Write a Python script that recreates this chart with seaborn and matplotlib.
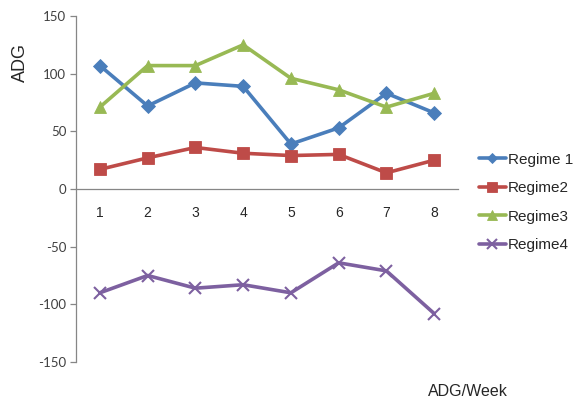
import matplotlib
matplotlib.use("Agg")
import matplotlib.pyplot as plt
import seaborn as sns
import pandas as pd

weeks = [1, 2, 3, 4, 5, 6, 7, 8]
regime1 = [107, 72, 92, 89, 39, 53, 83, 66]
regime2 = [17, 27, 36, 31, 29, 30, 14, 25]
regime3 = [71, 107, 107, 125, 96, 86, 71, 83]
regime4 = [-90, -75, -86, -83, -90, -64, -71, -108]
series_names = ["Regime 1", "Regime2", "Regime3", "Regime4"]
y_ticks = [-150, -100, -50, 0, 50, 100, 150]

colors = {"Regime 1": "#4A7EBB", "Regime2": "#BE4B48",
          "Regime3": "#98B954", "Regime4": "#7D60A0"}
markers = {"Regime 1": "D", "Regime2": "s", "Regime3": "^", "Regime4": "x"}
msizes = {"Regime 1": 7, "Regime2": 8.5, "Regime3": 9, "Regime4": 9}

frames = []
for name, vals in zip(series_names, [regime1, regime2, regime3, regime4]):
    frames.append(pd.DataFrame({"week": weeks, "ADG": vals, "regime": name}))
df = pd.concat(frames, ignore_index=True)

sns.set_style("white")
plt.rcParams["font.family"] = ["Liberation Sans", "DejaVu Sans"]

fig = plt.figure(figsize=(5.78, 4.0), dpi=100)
ax = fig.add_axes([0.1315, 0.095, 0.661, 0.865])

for name in series_names:
    sub = df[df["regime"] == name]
    sns.lineplot(data=sub, x="week", y="ADG", ax=ax, color=colors[name],
                 marker=markers[name], markersize=msizes[name],
                 markeredgewidth=1.5 if markers[name] == "x" else 0.6,
                 markeredgecolor=colors[name],
                 linewidth=2.6, label=name, legend=False)

ax.set_xlim(0.5, 8.5)
ax.set_ylim(-150, 150)
ax.set_yticks(y_ticks)
ax.set_yticklabels([str(v) for v in y_ticks], fontsize=9.5, color="#404040",
                   family=["Lato", "DejaVu Sans"])
ax.set_xticks(weeks)
ax.set_xticklabels([str(w) for w in weeks], fontsize=9.5, color="#202020",
                   family=["Lato", "DejaVu Sans"])
ax.set_xlabel("")
ax.set_ylabel("")

for side in ["top", "right"]:
    ax.spines[side].set_visible(False)
ax.spines["bottom"].set_position(("data", 0))
ax.spines["bottom"].set_color("#868686")
ax.spines["left"].set_color("#868686")
ax.spines["bottom"].set_linewidth(0.9)
ax.spines["left"].set_linewidth(0.9)
ax.tick_params(axis="x", length=0, pad=12)
ax.tick_params(axis="y", length=4, width=0.9, color="#868686", pad=3, left=True)

# legend keys use slightly smaller markers than the plotted lines
handles, labels = ax.get_legend_handles_labels()
orig_sizes = [h.get_markersize() for h in handles]
for h, s in zip(handles, orig_sizes):
    h.set_markersize(s * 0.8)
leg = fig.legend(handles, labels, loc="center left", bbox_to_anchor=(0.828, 0.494),
                 frameon=False, fontsize=11, handlelength=1.8, handletextpad=0.12,
                 labelspacing=0.95, borderpad=0, borderaxespad=0)
for h, s in zip(handles, orig_sizes):
    h.set_markersize(s)

fig.text(0.035, 0.845, "ADG", rotation=90, ha="center", va="center", fontsize=13)
fig.text(0.81, 0.02, "ADG/Week", ha="center", va="center", fontsize=11.5)

fig.savefig("out.png", dpi=100)
